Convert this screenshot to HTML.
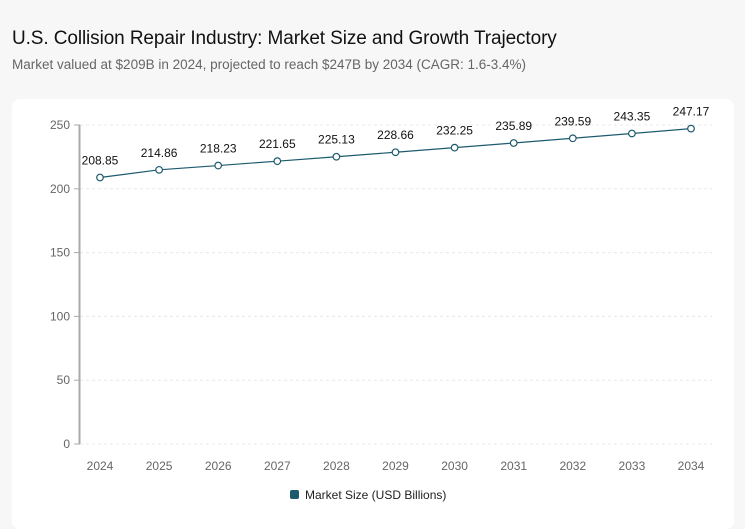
<!DOCTYPE html>
<html><head><style>
body{margin:0;width:745px;height:512px;background:#f7f7f7;font-family:"Liberation Sans",sans-serif;overflow:hidden;position:relative}
#title{position:absolute;left:12px;top:28px;font-size:19px;letter-spacing:-0.1px;color:#111}
#sub{position:absolute;left:12px;top:57px;font-size:13.5px;color:#666}
#card{position:absolute;left:12px;top:99px;width:722px;height:430px;background:#fff;border-radius:8px}
svg{position:absolute;left:0;top:0}
</style></head><body>
<div id="title">U.S. Collision Repair Industry: Market Size and Growth Trajectory</div>
<div id="sub">Market valued at $209B in 2024, projected to reach $247B by 2034 (CAGR: 1.6-3.4%)</div>
<div id="card"></div>
<svg id="chart" width="745" height="512"></svg>
<script>
const years=["2024","2025","2026","2027","2028","2029","2030","2031","2032","2033","2034"];
const values=[208.85,214.86,218.23,221.65,225.13,228.66,232.25,235.89,239.59,243.35,247.17];
const yTicks=[0,50,100,150,200,250];
const svg=document.getElementById('chart');
const NS='http://www.w3.org/2000/svg';
const x0=100,x1=691,yb=444,yt=125,ymax=250;
const X=i=>x0+(x1-x0)*i/(years.length-1);
const Y=v=>yb-(yb-yt)*v/ymax;
function mk(t,a,txt){const e=document.createElementNS(NS,t);for(const k in a)e.setAttribute(k,a[k]);if(txt!=null)e.textContent=txt;svg.appendChild(e);return e;}
yTicks.forEach(t=>{
 const g=mk('line',{x1:80,x2:712,y1:Y(t),y2:Y(t),stroke:'#e8e8e8','stroke-dasharray':'3,3'});
 
 
 mk('line',{x1:74,x2:80,y1:Y(t),y2:Y(t),stroke:'#aaa'});
 const l=mk('text',{x:70,y:Y(t)+4,'text-anchor':'end','font-size':'12',fill:'#666'},t);
 
 
});
const ax=mk('line',{x1:79.5,x2:79.5,y1:yt,y2:yb,stroke:'#aaa','stroke-width':2});


years.forEach((y,i)=>{
 const l=mk('text',{x:X(i),y:470,'text-anchor':'middle','font-size':'12',fill:'#666'},y);
 
 
});
const p=mk('polyline',{points:values.map((v,i)=>X(i)+','+Y(v)).join(' '),fill:'none',stroke:'#1d5a6e','stroke-width':1.2});


values.forEach((v,i)=>{
 const c=mk('circle',{cx:X(i),cy:Y(v),r:3.3,fill:'#fff',stroke:'#1d5a6e','stroke-width':1.2});
 
 
 const t=mk('text',{x:X(i),y:Y(v)-13,'text-anchor':'middle','font-size':'12',fill:'#111'},v.toFixed(2));
 
 
});
const lr=mk('rect',{x:290,y:490,width:9,height:9,rx:2,fill:'#1d5a6e'});


const lt=mk('text',{x:305,y:499,'font-size':'12',fill:'#222'},'Market Size (USD Billions)');


</script>
</body></html>
